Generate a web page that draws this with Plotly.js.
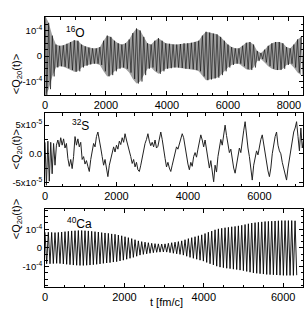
<!DOCTYPE html>
<html><head><meta charset="utf-8">
<script src="https://cdn.plot.ly/plotly-3.0.1.min.js"></script>
<style>html,body{margin:0;padding:0;background:#fff}#c{width:305px;height:310px}</style>
</head><body><div id="c"></div>
<script>
// ---- 16O: amplitude of each oscillation cycle (units 1e-4), one cycle per periodO fm/c
const periodO = 120;
const ampO = [1.6,1.3,0.8,0.45,0.4,0.42,0.48,0.55,0.62,0.6,0.45,0.38,0.33,0.3,0.3,0.35,0.6,0.8,0.75,0.6,
  0.5,0.45,0.5,0.65,0.9,1.08,1.0,0.75,0.5,0.45,0.6,0.7,0.6,0.5,0.48,0.45,0.45,0.47,0.5,0.5,
  0.52,0.55,0.6,0.8,0.95,0.92,0.88,0.85,0.75,0.6,0.45,0.35,0.3,0.3,0.4,0.52,0.55,0.45,0.2,0.12,
  0.25,0.4,0.5,0.55,0.55,0.5,0.35,0.3,0.45,0.65,0.75];

// ---- 32S: signal sampled every stepS fm/c (units 1e-5)
const stepS = 40;
const qS = [2.0,-5.5,2.2,-4.8,2.0,-3.5,1.8,-2.0,1.5,2.4,1.2,2.8,1.5,2.6,1.0,1.8,
  -0.8,-2.2,-1.0,-2.6,-0.5,3.0,1.5,2.6,1.2,2.0,
  -1.0,-0.5,-1.8,-1.2,-2.2,-3.1,-1.0,0.5,1.8,1.2,3.0,3.8,2.0,
  1.0,-0.5,-2.0,-1.0,-3.0,-4.0,-2.0,-1.0,0.5,1.2,0.3,1.5,
  0.8,2.2,1.6,2.8,2.0,3.5,2.4,1.5,0.5,-0.5,-1.7,-1.0,
  -2.3,-1.5,-2.8,-3.1,-2.0,-0.5,1.0,1.8,2.5,3.5,2.2,1.4,
  2.0,1.2,2.4,1.0,1.3,2.8,3.8,2.5,0.5,-0.8,-2.3,-1.5,
  -2.5,-3.1,-2.0,-0.8,0.5,1.2,0.8,1.6,2.5,3.5,2.8,1.0,
  -0.5,-1.8,-2.8,-1.5,-2.2,-0.5,0.2,-0.6,0.8,1.8,3.3,2.4,
  1.2,2.4,0.5,-1.4,-2.5,-1.2,-3.5,-4.9,-2.0,-3.2,-0.5,1.0,
  2.5,1.5,3.5,5.0,3.2,1.5,0.2,0.8,-1.2,-2.5,-3.4,-1.8,
  -0.5,1.0,0.2,2.5,4.0,5.6,3.0,1.0,-0.5,-2.5,-4.6,-2.0,
  -0.5,0.5,-0.2,1.5,2.5,3.3,1.5,0.5,-1.5,-3.0,-4.0,-2.5,
  0.0,1.8,3.0,3.8,1.5,0.5,0.0,-1.5,-2.5,-3.5,-4.6,-2.5,
  -1.0,1.0,2.5,3.8,4.5,5.6,3.0,0.5,4.5,1.0,2.5];

// ---- 40Ca: amplitude of each oscillation cycle (units 1e-4), one cycle per periodCa fm/c
const periodCa = 84;
const ampCa = [0.84,0.84,0.83,0.82,0.83,0.85,0.87,0.89,0.91,0.92,0.93,0.93,0.92,0.91,0.89,0.87,
  0.85,0.82,0.8,0.78,0.75,0.73,0.69,0.65,0.6,0.55,0.5,0.44,0.38,0.34,0.31,0.28,0.25,0.23,0.22,
  0.21,0.22,0.25,0.28,0.31,0.34,0.38,0.44,0.5,0.55,0.6,0.65,0.7,0.77,0.84,0.9,0.97,1.02,1.05,
  1.08,1.1,1.13,1.15,1.18,1.21,1.25,1.29,1.33,1.35,1.37,1.39,1.41,1.42,1.43,1.44,1.45,1.46,
  1.46,1.46,1.46,1.45];

const yTicksO = [-1e-4, 0, 1e-4], yTextO = ['-10<sup>-4</sup>', '0', '10<sup>-4</sup>'];
const yTicksS = [-5e-5, 0, 5e-5], yTextS = ['-5x10<sup>-5</sup>', '0.0', '5x10<sup>-5</sup>'];
const yTicksCa = [-1e-4, 0, 1e-4], yTextCa = ['-10<sup>-4</sup>', '0', '10<sup>-4</sup>'];

function zig(amp, P, scale) {
  const x = [], y = [];
  amp.forEach((a, i) => { x.push(i * P); y.push(a * scale); x.push(i * P + P / 2); y.push(-a * scale); });
  return {x, y};
}
const zO = zig(ampO, periodO, 1e-4);
const zCa = zig(ampCa, periodCa, 1e-4);
const envX = ampO.map((a, i) => i * periodO);

const traces = [
  {x: envX, y: ampO.map(a => a * 1e-4), xaxis: 'x', yaxis: 'y', mode: 'lines', line: {width: 0, color: '#888'}, hoverinfo: 'skip'},
  {x: envX, y: ampO.map(a => -a * 1e-4), xaxis: 'x', yaxis: 'y', mode: 'lines', fill: 'tonexty', fillcolor: '#a0a0a0', line: {width: 0, color: '#888'}},
  {x: zO.x, y: zO.y, xaxis: 'x', yaxis: 'y', mode: 'lines', line: {width: 0.55, color: '#000'}},
  {x: qS.map((v, i) => i * stepS), y: qS.map(v => v * 1e-5), xaxis: 'x2', yaxis: 'y2', mode: 'lines', line: {width: 1, color: '#222'}},
  {x: zCa.x, y: zCa.y, xaxis: 'x3', yaxis: 'y3', mode: 'lines', line: {width: 0.9, color: '#000'}}
];

const F = 'Liberation Sans Narrow, Liberation Sans, Arial, sans-serif';
function xa(range, anchor) {
  return {range, anchor, domain: [0, 1], ticks: 'inside', ticklen: 4, tickwidth: 1, tickcolor: '#000',
    dtick: 2000, tick0: 0, showline: true, linecolor: '#000', linewidth: 1, mirror: 'ticks', showgrid: false,
    zeroline: false, tickfont: {size: 11, family: F, color: '#000'},
    minor: {dtick: 500, ticks: 'inside', ticklen: 2.5, tickcolor: '#000', showgrid: false}};
}
function ya(range, anchor, domain, tv, tt, mdt) {
  return {range, anchor, domain, ticks: 'inside', ticklen: 4, tickwidth: 1, tickcolor: '#000',
    tickvals: tv, ticktext: tt, showline: true, linecolor: '#000', linewidth: 1, mirror: 'ticks',
    showgrid: false, zeroline: false, tickfont: {size: 9.5, family: F, color: '#000'},
    minor: {dtick: mdt, tick0: 0, ticks: 'inside', ticklen: 2.5, tickcolor: '#000', showgrid: false}};
}
const ytitle = '&lt;Q<sub>20</sub>(t)&gt;';
const layout = {
  width: 305, height: 310, margin: {l: 45, r: 2, t: 17, b: 23}, showlegend: false,
  paper_bgcolor: '#fff', plot_bgcolor: '#fff', font: {family: F, color: '#000'},
  xaxis: xa([0, 8460], 'y'),
  xaxis2: xa([0, 7220], 'y2'),
  xaxis3: xa([0, 6500], 'y3'),
  yaxis: ya([-1.53e-4, 1.53e-4], 'x', [0.711, 1], yTicksO, yTextO, 2.5e-5),
  yaxis2: ya([-5.64e-5, 7.1e-5], 'x2', [0.374, 0.644], yTicksS, yTextS, 2.5e-5),
  yaxis3: ya([-2.08e-4, 2.08e-4], 'x3', [0, 0.289], yTicksCa, yTextCa, 1e-4 / 3),
  annotations: [
    {text: '<sup>16</sup>O', x: 1000, y: 0.94e-4, xref: 'x', yref: 'y', showarrow: false, font: {size: 12, family: F}},
    {text: '<sup>32</sup>S', x: 980, y: 5.0e-5, xref: 'x2', yref: 'y2', showarrow: false, font: {size: 12, family: F}},
    {text: '<sup>40</sup>Ca', x: 860, y: 1.32e-4, xref: 'x3', yref: 'y3', showarrow: false, font: {size: 12, family: F}},
    {text: ytitle, textangle: -90, x: -0.143, y: 0.87, xref: 'paper', yref: 'paper', showarrow: false, font: {size: 11, family: F}},
    {text: ytitle, textangle: -90, x: -0.143, y: 0.51, xref: 'paper', yref: 'paper', showarrow: false, font: {size: 11, family: F}},
    {text: ytitle, textangle: -90, x: -0.143, y: 0.17, xref: 'paper', yref: 'paper', showarrow: false, font: {size: 11, family: F}},
    {text: 't [fm/c]', x: 0.47, y: -0.056, xref: 'paper', yref: 'paper', yanchor: 'middle', showarrow: false, font: {size: 11, family: F}}
  ]
};
Plotly.newPlot('c', traces, layout, {staticPlot: true, displayModeBar: false});
</script></body></html>
